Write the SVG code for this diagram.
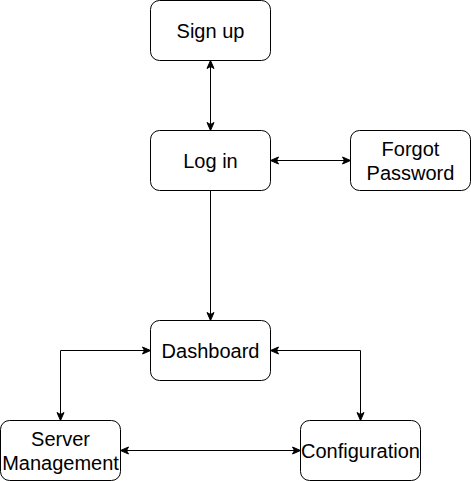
<svg xmlns="http://www.w3.org/2000/svg" width="471" height="481" viewBox="0 0 471 481">
  <defs>
    <marker id="arr" viewBox="0 0 10 10" refX="9" refY="5" markerWidth="10" markerHeight="10" markerUnits="userSpaceOnUse" orient="auto-start-reverse">
      <path d="M1,1.5 L9,5 L1,8.5 L3,5 Z" fill="#000" stroke="#000" stroke-width="1"/>
    </marker>
  </defs>
  <style>
    .box { fill: #fff; stroke: #000; stroke-width: 1; }
    .lbl { font-family: "Liberation Sans", Arial, sans-serif; font-size: 20px; fill: #000; text-anchor: middle; }
    .edge { fill: none; stroke: #000; stroke-width: 1; marker-start: url(#arr); marker-end: url(#arr); }
    .edge1 { fill: none; stroke: #000; stroke-width: 1; marker-end: url(#arr); }
  </style>
  <rect width="471" height="481" fill="#fff"/>
  <g id="connectors">
    <path class="edge" d="M210.5,60.5 L210.5,130.5"/>
    <path class="edge" d="M270.5,160.5 L350.5,160.5"/>
    <path class="edge1" d="M210.5,190.5 L210.5,320.5"/>
    <path class="edge" d="M150.5,350.5 L60.5,350.5 L60.5,420.5"/>
    <path class="edge" d="M270.5,350.5 L360.5,350.5 L360.5,420.5"/>
    <path class="edge" d="M120.5,450.5 L300.5,450.5"/>
  </g>
  <g id="signup">
    <rect class="box" x="150.5" y="0.5" width="120" height="60" rx="9"/>
    <text class="lbl" x="210.5" y="38">Sign up</text>
  </g>
  <g id="login">
    <rect class="box" x="150.5" y="130.5" width="120" height="60" rx="9"/>
    <text class="lbl" x="210.5" y="168">Log in</text>
  </g>
  <g id="forgot">
    <rect class="box" x="350.5" y="130.5" width="120" height="60" rx="9"/>
    <text class="lbl" x="410.5" y="156">Forgot</text>
    <text class="lbl" x="410.5" y="180">Password</text>
  </g>
  <g id="dashboard">
    <rect class="box" x="150.5" y="320.5" width="120" height="60" rx="9"/>
    <text class="lbl" x="210.5" y="358">Dashboard</text>
  </g>
  <g id="server">
    <rect class="box" x="0.5" y="420.5" width="120" height="60" rx="9"/>
    <text class="lbl" x="60.5" y="446">Server</text>
    <text class="lbl" x="60.5" y="470">Management</text>
  </g>
  <g id="config">
    <rect class="box" x="300.5" y="420.5" width="120" height="60" rx="9"/>
    <text class="lbl" x="360.5" y="458">Configuration</text>
  </g>
</svg>
